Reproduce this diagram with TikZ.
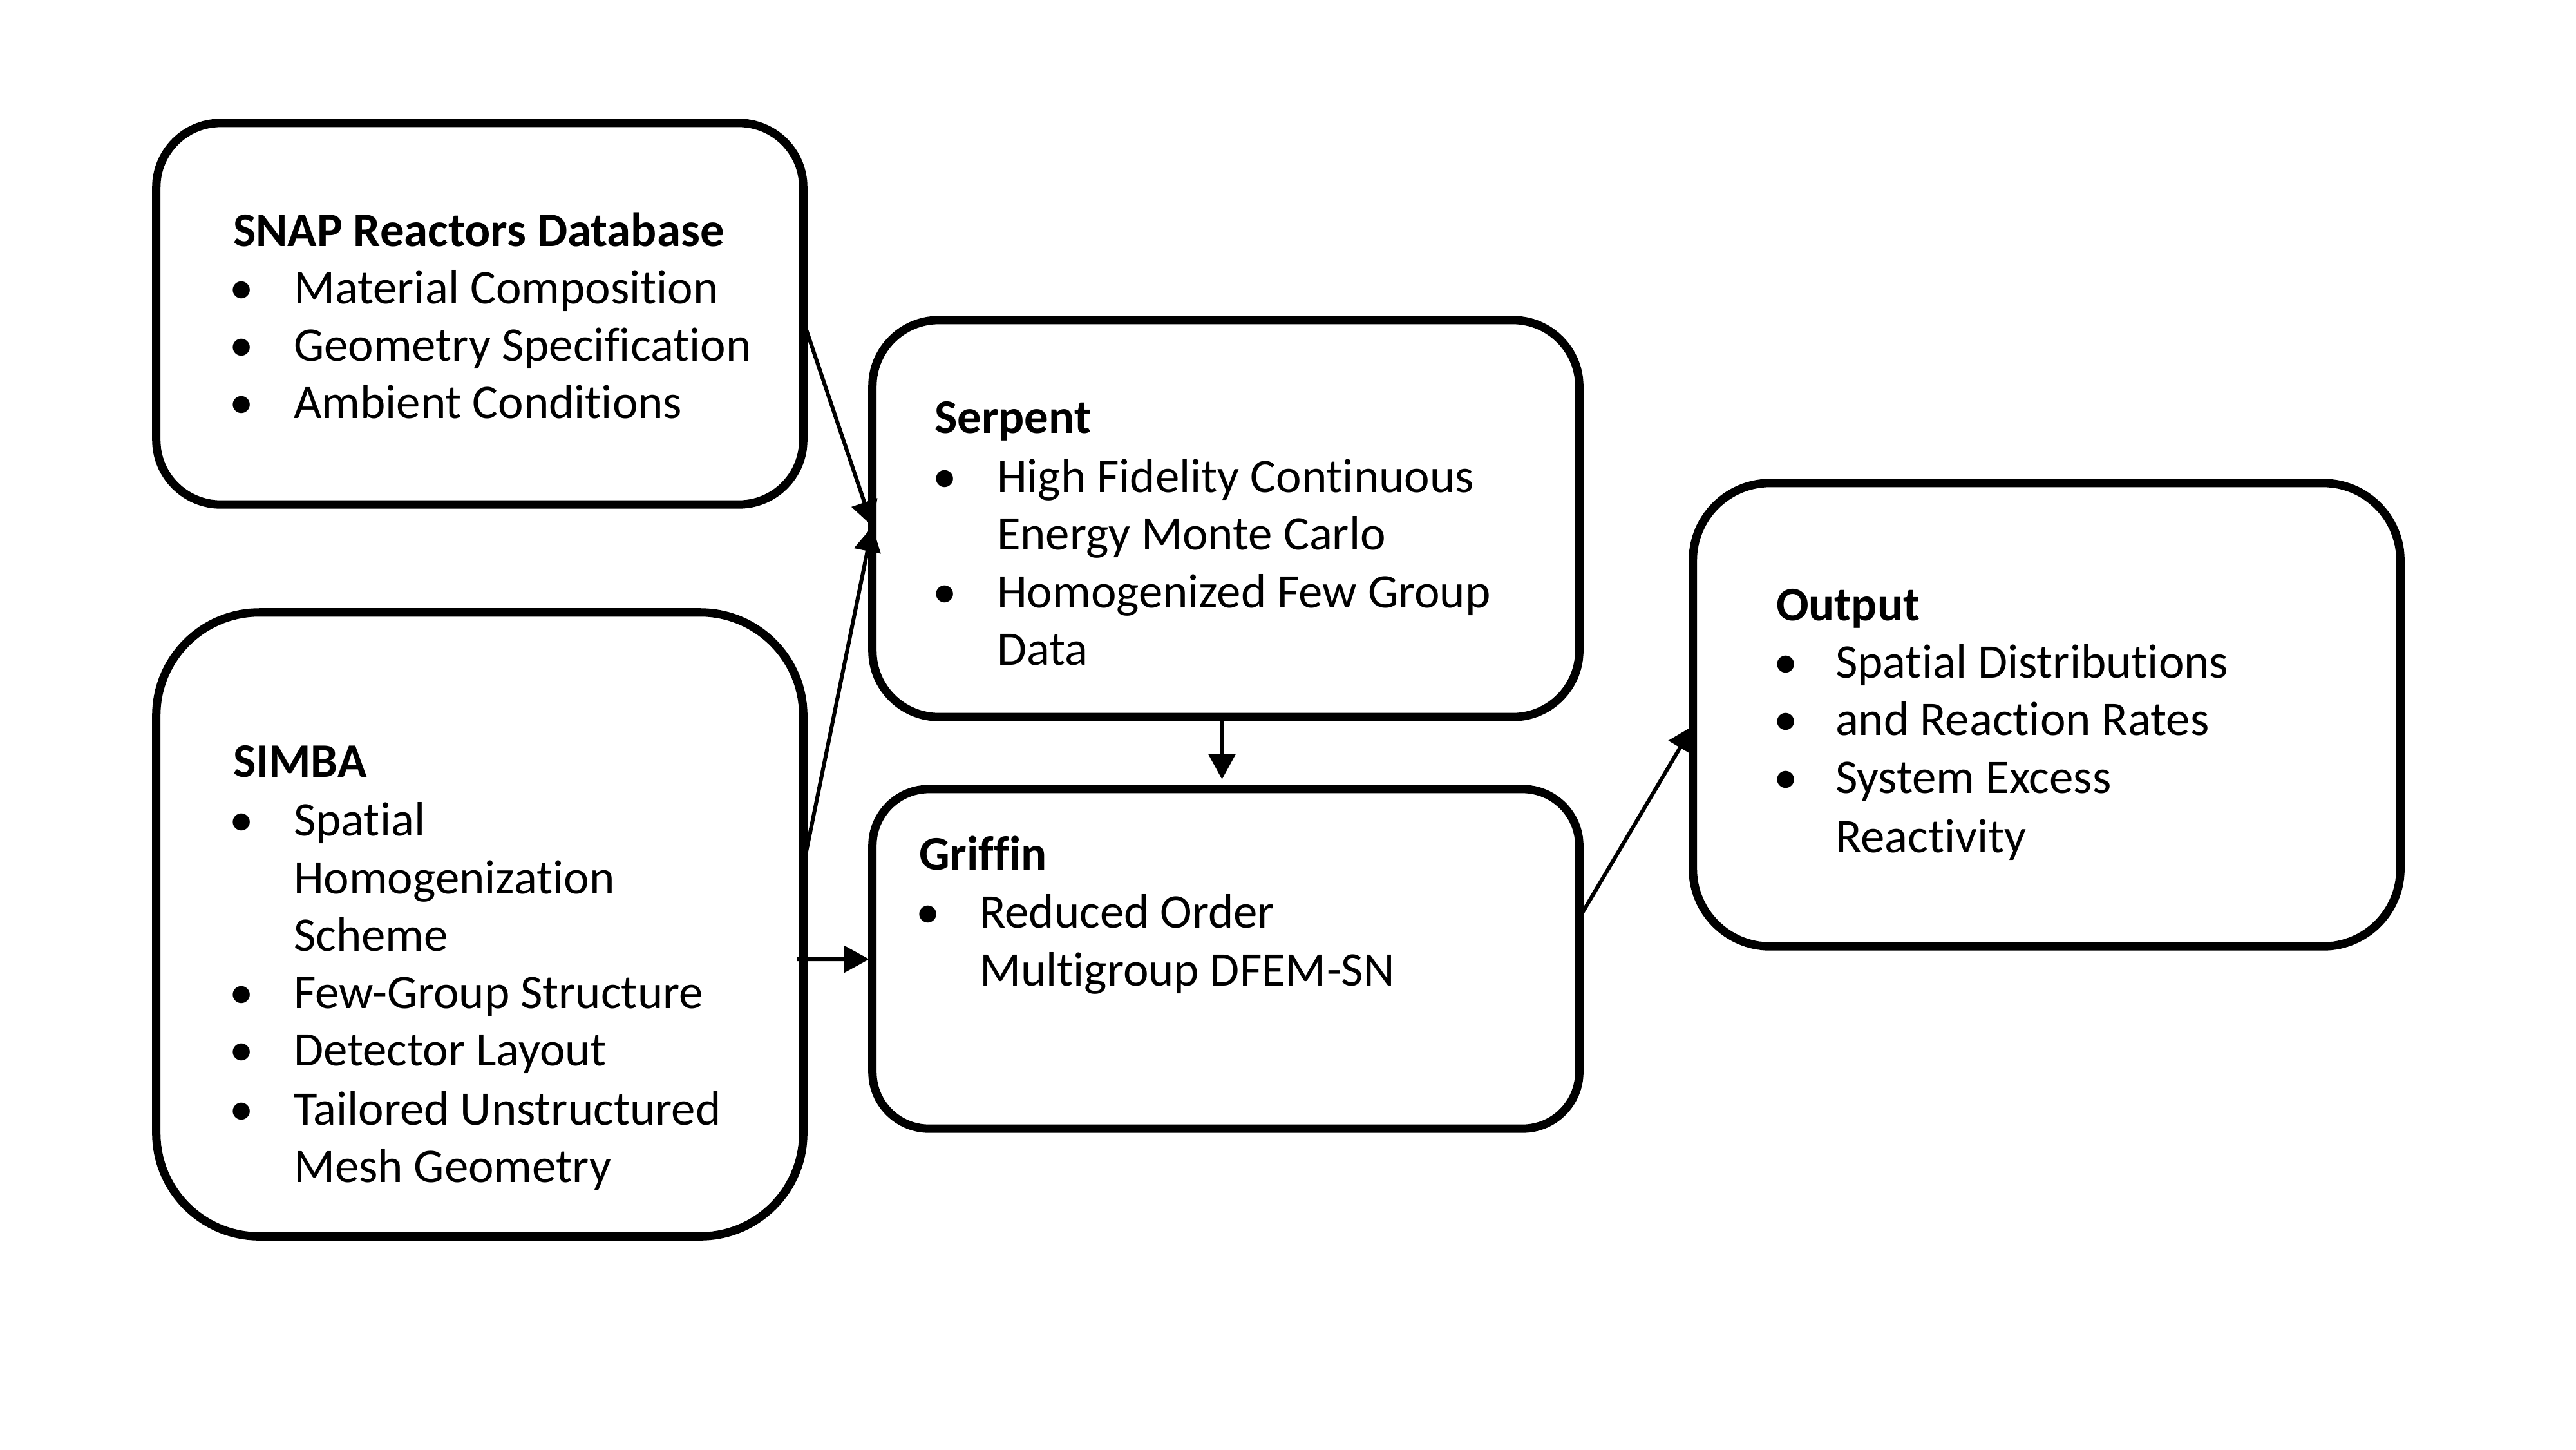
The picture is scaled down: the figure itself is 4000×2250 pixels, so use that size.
\documentclass[tikz,border=0pt]{standalone}
\usepackage{fontspec}
\setmainfont{Carlito}[Ligatures=CommonOff]
\usetikzlibrary{arrows.meta}
\newcommand{\fsz}{\fontsize{21.3pt}{25.6pt}\selectfont}
\tikzset{
  box/.style={draw=black, line width=3.7pt, rectangle, inner sep=0pt, outer sep=0pt, fill=white},
  txt/.style={anchor=base west, inner sep=0pt, outer sep=0pt, font=\fsz},
  ttl/.style={txt, font=\fsz\bfseries},
  bul/.style={anchor=base, inner sep=0pt, outer sep=0pt, font=\fsz},
  arr/.style={draw=black, line width=1.7pt, -{Triangle[length=0.39cm, width=0.41cm]}}
}
\begin{document}
\begin{tikzpicture}[x=0.01cm, y=-0.01cm]
\useasboundingbox[fill=white] (0,0) rectangle (4000,2250);

% boxes
\node[box, minimum width=10.04cm, minimum height=5.92cm, rounded corners=1.0cm] (snap) at (745,487) {};
\node[box, minimum width=10.04cm, minimum height=9.68cm, rounded corners=1.6cm] (simba) at (745,1435) {};
\node[box, minimum width=10.97cm, minimum height=6.16cm, rounded corners=1.03cm] (serpent) at (1903.5,805) {};
\node[box, minimum width=10.97cm, minimum height=5.27cm, rounded corners=0.88cm] (griffin) at (1903.5,1488.5) {};
\node[box, minimum width=10.98cm, minimum height=7.19cm, rounded corners=1.2cm] (output) at (3178,1109.5) {};

% SNAP text
\node[ttl] (snap0) at (362,382) {SNAP Reactors Database};
\node[bul] (snapb1) at (375,471) {•};
\node[txt] (snap1) at (456,471) {Material Composition};
\node[bul] (snapb2) at (375,560) {•};
\node[txt] (snap2) at (456,560) {Geometry Specification};
\node[bul] (snapb3) at (375,649) {•};
\node[txt] (snap3) at (456,649) {Ambient Conditions};

% SIMBA text
\node[ttl] (simba0) at (362,1206) {SIMBA};
\node[bul] (simbab1) at (375,1297) {•};
\node[txt] (simba1) at (456,1297) {Spatial};
\node[txt] (simba1b) at (456,1387) {Homogenization};
\node[txt] (simba1c) at (456,1476) {Scheme};
\node[bul] (simbab2) at (375,1565) {•};
\node[txt] (simba2) at (456,1565) {Few-Group Structure};
\node[bul] (simbab3) at (375,1654) {•};
\node[txt] (simba3) at (456,1654) {Detector Layout};
\node[bul] (simbab4) at (375,1746) {•};
\node[txt] (simba4) at (456,1746) {Tailored Unstructured};
\node[txt] (simba4b) at (456,1835) {Mesh Geometry};

% Serpent text
\node[ttl] (serp0) at (1451,672) {Serpent};
\node[bul] (serpb1) at (1467,764) {•};
\node[txt] (serp1) at (1548,764) {High Fidelity Continuous};
\node[txt] (serp1b) at (1548,853) {Energy Monte Carlo};
\node[bul] (serpb2) at (1467,943) {•};
\node[txt] (serp2) at (1548,943) {Homogenized Few Group};
\node[txt] (serp2b) at (1548,1032) {Data};

% Griffin text
\node[ttl] (grif0) at (1427,1350) {Griffin};
\node[bul] (grifb1) at (1441,1440) {•};
\node[txt] (grif1) at (1521,1440) {Reduced Order};
\node[txt] (grif1b) at (1521,1530) {Multigroup DFEM-SN};

% Output text
\node[ttl] (out0) at (2758,963) {Output};
\node[bul] (outb1) at (2773,1052) {•};
\node[txt] (out1) at (2850,1052) {Spatial Distributions};
\node[bul] (outb2) at (2773,1141) {•};
\node[txt] (out2) at (2850,1141) {and Reaction Rates};
\node[bul] (outb3) at (2773,1231) {•};
\node[txt] (out3) at (2850,1231) {System Excess};
\node[txt] (out3b) at (2850,1323) {Reactivity};

% connectors
\coordinate (conv) at ([yshift=-3.20cm]serpent.north west);
\draw[arr] ([yshift=-3.07cm]snap.north east) -- (conv);
\draw[arr] ([yshift=-3.94cm]simba.north east) -- (conv);
\draw[arr, shorten >=0.05cm] ([xshift=-0.10cm, yshift=-5.38cm]simba.north east) -- ([yshift=-2.64cm]griffin.north west);
\draw[arr, shorten >=0.15cm] ([xshift=-0.06cm]serpent.south) -- ([xshift=-0.06cm]griffin.north);
\draw[arr] ([yshift=-2.00cm]griffin.north east) -- ([yshift=-3.77cm]output.north west);
\end{tikzpicture}
\end{document}
